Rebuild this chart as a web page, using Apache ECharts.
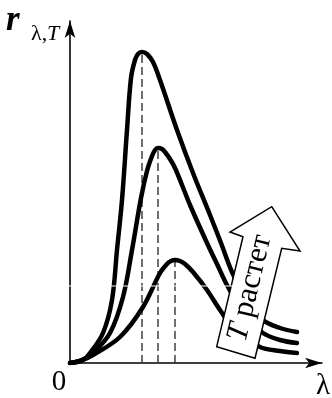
<!DOCTYPE html>
<html>
<head>
<meta charset="utf-8">
<style>
html,body{margin:0;padding:0;background:#fff;}
#c{width:332px;height:398px;}
</style>
<script src="https://cdn.jsdelivr.net/npm/echarts@6/dist/echarts.min.js"></script>
</head>
<body>
<div id="c"></div>
<script>
// Values (λ along x, r along y, arbitrary units)
const curveHigh = [[0,0],[13,3],[20,10],[33,30],[42,63],[47,113],[52,163],[57,233],[61,285],[65,303],[68,309],[72,311],[77,309],[83,301],[90,283],[107,233],[123,190],[140,148],[151,120],[162,91],[175,65],[193,43],[210,35],[227,31]];
const curveMid  = [[0,0],[12,3],[23,10],[40,30],[53,66],[62,113],[71,165],[77,192],[82,207],[85,213],[88,215],[92,214],[95,211],[100,204],[105,195],[112,178],[120,158],[137,120],[147,99],[158,76],[175,48],[193,30],[210,23],[227,20]];
const curveLow  = [[0,0],[10,2],[23,8],[50,26],[73,56],[90,90],[97,99],[101,102],[105,103],[110,102],[115,99],[123,91],[137,73],[150,53],[165,33],[190,16],[210,12],[227,10]];
const peakX = [72, 88, 105];
const peakY = [311, 215, 103];
const xLabel = 'λ';
const yLabel = 'r';
const ySub = 'λ,';
const ySubT = 'T';
const originLabel = '0';
const arrowText = ['T', ' растет'];

const serif = 'Liberation Serif';
const chart = echarts.init(document.getElementById('c'), null, {renderer:'canvas'});

const curveStyle = {color:'#000', width:4.5, cap:'round', join:'round'};
const series = [];
peakX.forEach((x,i)=>{
  series.push({type:'line', data:[[x,0],[x,peakY[i]]], symbol:'none', silent:true, z:1,
    lineStyle:{color:'#333', width:1.4, type:[8,4]}});
});
[curveHigh, curveMid, curveLow].forEach(d=>{
  series.push({type:'line', data:d, symbol:'none', smooth:0.35, silent:true, z:3, lineStyle:curveStyle});
});

const axisLine = {show:true, onZero:false, symbol:['none','arrow'], symbolSize:[8,17],
  lineStyle:{color:'#000', width:1.6}};

chart.setOption({
  animation:false,
  backgroundColor:'#fff',
  grid:{left:70, right:10, top:21, bottom:35},
  xAxis:{type:'value', min:0, max:252, axisLine:axisLine, axisTick:{show:false}, axisLabel:{show:false}, splitLine:{show:false}},
  yAxis:{type:'value', min:0, max:342, axisLine:axisLine, axisTick:{show:false}, axisLabel:{show:false}, splitLine:{show:false}},
  series:series,
  graphic:[
    {type:'polygon', z:10, shape:{points:[[271.7,206.7],[300,251],[281.7,248.3],[255,358.3],[216.7,346.7],[243,236.7],[230,232]]},
      style:{fill:'#fff', stroke:'#000', lineWidth:1.5}},
    {type:'text', z:11, x:250, y:288, rotation:76.5*Math.PI/180,
      style:{text:'{i|'+arrowText[0]+'}{n|'+arrowText[1]+'}', align:'center', verticalAlign:'middle',
        rich:{i:{fontFamily:serif, fontStyle:'italic', fontSize:31, fill:'#000'}, n:{fontFamily:serif, fontSize:31, fill:'#000'}}}},
    {type:'line', z:12, shape:{x1:64, y1:286, x2:234, y2:286}, style:{stroke:'#fff', lineWidth:1}},
    {type:'text', z:11, x:6, y:38, style:{text:yLabel, fontFamily:serif, fontStyle:'italic', fontWeight:'bold', fontSize:35, fill:'#000', verticalAlign:'bottom'}},
    {type:'text', z:11, x:31, y:45, style:{text:ySub, fontFamily:serif, fontSize:22, fill:'#000', verticalAlign:'bottom'}},
    {type:'text', z:11, x:47, y:45, style:{text:ySubT, fontFamily:serif, fontStyle:'italic', fontSize:22, fill:'#000', verticalAlign:'bottom'}},
    {type:'text', z:11, x:59, y:382, style:{text:originLabel, fontFamily:serif, fontSize:29, fill:'#000', align:'center', verticalAlign:'middle'}},
    {type:'text', z:11, x:323, y:386, style:{text:xLabel, fontFamily:serif, fontSize:29, fill:'#000', align:'center', verticalAlign:'middle'}}
  ]
});
</script>
</body>
</html>
